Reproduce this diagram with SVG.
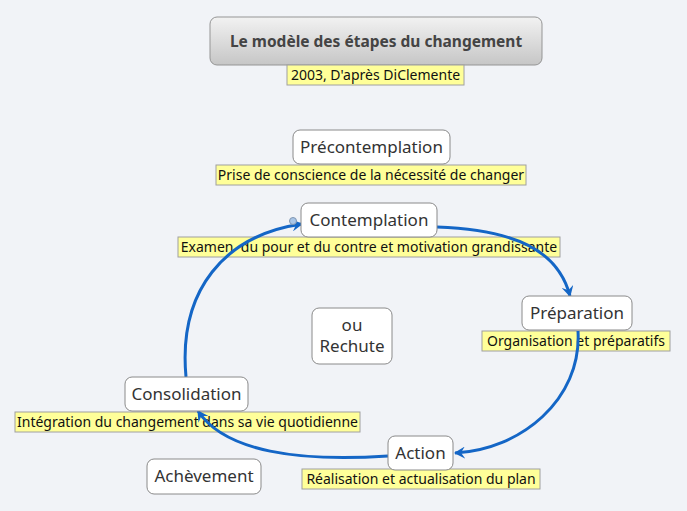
<svg xmlns="http://www.w3.org/2000/svg" width="687" height="511" viewBox="0 0 687 511">
<style>
.node rect{fill:#fff;stroke:#8a8a8a;stroke-width:1}
.node text{font-family:"Noto Sans","DejaVu Sans",sans-serif;font-size:17px;fill:#333;text-anchor:middle}
.lbl rect{fill:#ffff99;stroke:#a0a0a0;stroke-width:1}
.lbl text{font-family:"Noto Sans","DejaVu Sans",sans-serif;font-size:14px;fill:#111;text-anchor:middle}
.conn path{fill:none;stroke:#1466c6;stroke-width:3}
</style>
<defs>
<linearGradient id="tg" x1="0" y1="0" x2="0" y2="1">
<stop offset="0" stop-color="#f2f2f2"/>
<stop offset="1" stop-color="#c6c6c6"/>
</linearGradient>
<marker id="ah" viewBox="0 0 12 12" refX="10" refY="6" markerWidth="12" markerHeight="12" markerUnits="userSpaceOnUse" orient="auto">
<path d="M0,0 L11,6 L0,12 L4,6 Z" fill="#1466c6"/>
</marker>
</defs>
<rect width="687" height="511" fill="#f1f3f7"/>
<g id="title">
<rect x="210" y="17" width="332" height="48" rx="7" fill="url(#tg)" stroke="#959595"/>
<text x="376" y="47" font-family="Noto Sans,DejaVu Sans,sans-serif" font-size="15.5" font-weight="bold" fill="#444" text-anchor="middle">Le modèle des étapes du changement</text>
</g>
<g class="lbl" id="subtitle">
<rect x="287" y="65" width="177" height="20"/>
<text x="375.5" y="80">2003, D'après DiClemente</text>
</g>
<g class="lbl" id="precontemplation-label">
<rect x="216" y="165" width="310" height="20"/>
<text x="371" y="180">Prise de conscience de la nécessité de changer</text>
</g>
<g class="lbl" id="contemplation-label">
<rect x="178" y="237" width="382" height="20"/>
<text x="369" y="252" xml:space="preserve">Examen  du pour et du contre et motivation grandissante</text>
</g>
<g class="lbl" id="preparation-label">
<rect x="482" y="331" width="188" height="20"/>
<text x="576" y="346">Organisation et préparatifs</text>
</g>
<g class="lbl" id="consolidation-label">
<rect x="15" y="412" width="345" height="20"/>
<text x="187.5" y="427">Intégration du changement dans sa vie quotidienne</text>
</g>
<g class="lbl" id="action-label">
<rect x="302" y="469" width="238" height="20"/>
<text x="421" y="484">Réalisation et actualisation du plan</text>
</g>
<g class="conn" id="connectors">
<path d="M437,227 C515,230 558,250 570,296" marker-end="url(#ah)"/>
<path d="M578,331 C582,400 520,450 455,453" marker-end="url(#ah)"/>
<path d="M388,456 C300,462 225,452 198,411" marker-end="url(#ah)"/>
<path d="M186,377 C178,290 225,235 302,224" marker-end="url(#ah)"/>
</g>
<g class="node" id="precontemplation">
<rect x="293" y="130" width="157" height="34" rx="7"/>
<text x="371.5" y="153">Précontemplation</text>
</g>
<g class="node" id="contemplation">
<rect x="301" y="203" width="136" height="34" rx="7"/>
<text x="369" y="226">Contemplation</text>
<circle cx="293" cy="221" r="3.5" fill="#a9c6e8" stroke="#7f95b0" stroke-width="1"/>
</g>
<g class="node" id="preparation">
<rect x="522" y="296" width="110" height="34" rx="7"/>
<text x="577" y="319">Préparation</text>
</g>
<g class="node" id="rechute">
<rect x="312" y="308" width="80" height="56" rx="7"/>
<text x="352" y="331">ou</text>
<text x="352" y="352">Rechute</text>
</g>
<g class="node" id="consolidation">
<rect x="125" y="377" width="123" height="34" rx="7"/>
<text x="186.5" y="400">Consolidation</text>
</g>
<g class="node" id="action">
<rect x="388" y="436" width="65" height="34" rx="7"/>
<text x="420.5" y="459">Action</text>
</g>
<g class="node" id="achevement">
<rect x="147" y="459" width="114" height="35" rx="7"/>
<text x="204" y="482">Achèvement</text>
</g>
</svg>
